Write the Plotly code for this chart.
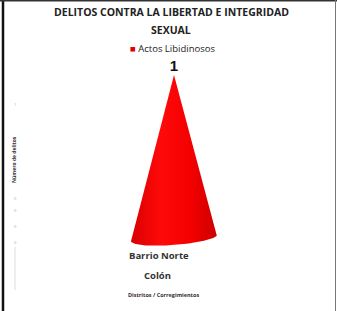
import numpy as np
import plotly.graph_objects as go

# ---- data ----
title_lines = ["DELITOS CONTRA LA LIBERTAD E INTEGRIDAD", "SEXUAL"]
series_name = "Actos Libidinosos"
series_color = "#e00000"
corregimientos = ["Barrio Norte"]
distritos = ["Colón"]
values = [1]
x_title = "Distritos / Corregimientos"
y_title = "Número de delitos"
y_tick_labels = ["1", "0", "0", "0", "0"]

W, H = 337, 311
PX_PER_UNIT = 163.0
BASE_PIX = 238.0
CX_PIX = 174.0
HALF_W_PIX = 43.0
HALF_H_PIX = 7.0

ymin = -(H - BASE_PIX) / PX_PER_UNIT
ymax = ymin + H / PX_PER_UNIT
xscale = 100.0
xmin = -CX_PIX / xscale
xmax = (W - CX_PIX) / xscale

fig = go.Figure()

for i, v in enumerate(values):
    hw = HALF_W_PIX / xscale
    hh = HALF_H_PIX / PX_PER_UNIT
    t = np.linspace(0, np.pi, 60)
    ex = i + hw * np.cos(t)
    ey = -hh * np.sin(t) + 0.02 * np.cos(t)
    xs = [i] + list(ex) + [i]
    ys = [v] + list(ey) + [v]
    fig.add_trace(go.Scatter(
        x=xs, y=ys, mode="lines", fill="toself",
        line=dict(color="rgba(0,0,0,0)", width=0),
        fillcolor="#f00000",
        fillgradient=dict(type="horizontal",
                          colorscale=[[0, "#d80000"], [0.35, "#ff0a0a"], [0.7, "#f40000"], [1, "#cc0000"]]),
        showlegend=False, hoverinfo="skip"))
    fig.add_trace(go.Scatter(
        x=[i], y=[v], mode="text", text=["<b>" + str(v) + "</b>"], textposition="top center",
        textfont=dict(family="Liberation Sans", size=15, color="#111111"),
        showlegend=False, cliponaxis=False, hoverinfo="skip"))

def px_x(p):
    return p / W

def px_y(p):
    return 1 - p / H

ann = []
ann.append(dict(x=px_x(171), y=px_y(12), text="<b>" + title_lines[0] + "</b>"))
ann.append(dict(x=px_x(171), y=px_y(30), text="<b>" + title_lines[1] + "</b>"))
for a in ann:
    a.update(xref="paper", yref="paper", showarrow=False, xanchor="center", yanchor="middle",
             font=dict(family="Open Sans", size=10.5, color="#222222"))

# legend entry
ann.append(dict(x=px_x(172), y=px_y(48),
                text="<span style='color:%s'>■</span> %s" % (series_color, series_name),
                xref="paper", yref="paper", showarrow=False, xanchor="center", yanchor="middle",
                font=dict(family="Open Sans", size=9.5, color="#222222")))

ann.append(dict(x=px_x(159), y=px_y(264), text="<b>" + corregimientos[0] + "</b>",
                xref="paper", yref="paper", showarrow=False,
                font=dict(family="Open Sans", size=9.5, color="#333333")))
ann.append(dict(x=px_x(157), y=px_y(284), text="<b>" + distritos[0] + "</b>",
                xref="paper", yref="paper", showarrow=False,
                font=dict(family="Open Sans", size=9.5, color="#333333")))
ann.append(dict(x=px_x(163), y=px_y(301), text="<b>" + x_title + "</b>",
                xref="paper", yref="paper", showarrow=False,
                font=dict(family="Open Sans", size=5.5, color="#333333")))
ann.append(dict(x=px_x(9), y=px_y(160), text="<b>" + y_title + "</b>", textangle=-90,
                xref="paper", yref="paper", showarrow=False,
                font=dict(family="Open Sans", size=5, color="#333333")))
for lbl, yp in zip(y_tick_labels, [100, 198, 215, 231, 247]):
    ann.append(dict(x=px_x(12), y=px_y(yp), text=lbl, xref="paper", yref="paper",
                    showarrow=False, font=dict(family="Open Sans", size=4, color="#aaaaaa")))

shapes = [
    dict(type="line", xref="paper", yref="paper", x0=px_x(3), x1=px_x(3), y0=0, y1=1,
         line=dict(color="#111111", width=2.5)),
    dict(type="line", xref="paper", yref="paper", x0=0, x1=1, y0=px_y(0.7), y1=px_y(0.7),
         line=dict(color="#333333", width=1.5)),
    dict(type="line", xref="paper", yref="paper", x0=px_x(335.5), x1=px_x(335.5), y0=0, y1=1,
         line=dict(color="#777777", width=1)),
    dict(type="line", xref="paper", yref="paper", x0=px_x(15), x1=px_x(15), y0=px_y(247), y1=px_y(290),
         line=dict(color="#dddddd", width=1)),
]

fig.update_layout(
    width=W, height=H,
    margin=dict(l=0, r=0, t=0, b=0),
    paper_bgcolor="white", plot_bgcolor="white",
    xaxis=dict(range=[xmin, xmax], visible=False, fixedrange=True),
    yaxis=dict(range=[ymin, ymax], visible=False, fixedrange=True),
    showlegend=False,
    hovermode=False,
    annotations=ann,
    shapes=shapes,
)

fig.write_html("out.html", config={"displayModeBar": False},
               post_script="document.body.style.margin='0';document.body.style.overflow='hidden';")
